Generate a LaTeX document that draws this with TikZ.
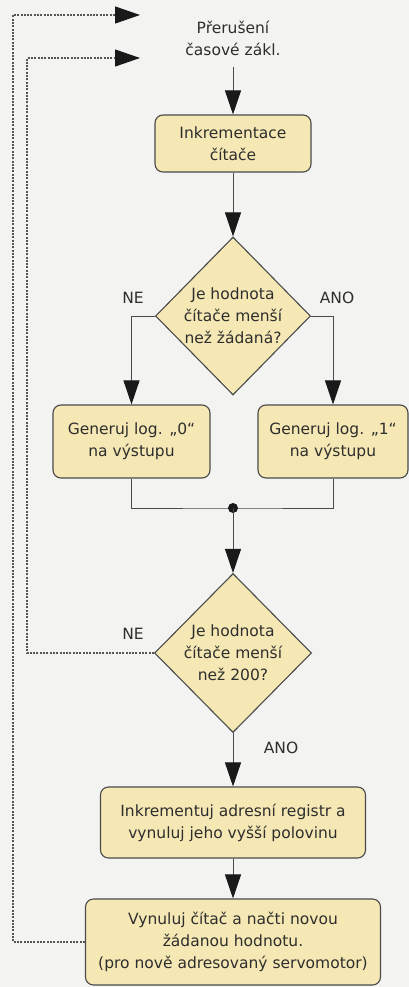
\documentclass[tikz,border=0pt]{standalone}
\usepackage{fontspec}
\setmainfont{DejaVu Sans}
\usetikzlibrary{arrows.meta,shapes.geometric}
\definecolor{bg}{HTML}{F3F3F1}
\definecolor{boxfill}{HTML}{F5E8B4}
\definecolor{linec}{HTML}{4A4A4A}
\definecolor{loopc}{HTML}{555555}
\definecolor{txt}{HTML}{2E2E2E}
\begin{document}
\begin{tikzpicture}[x=1pt,y=-1pt,
  font=\fontsize{15.5}{22}\selectfont, text=txt,
  procbox/.style={draw=linec, fill=boxfill, rounded corners=8pt, line width=1.1pt, align=center, inner sep=0pt},
  decbox/.style={diamond, draw=linec, fill=boxfill, line width=1.1pt, inner sep=0pt},
  dectext/.style={align=center, inner sep=0pt},
  flow/.style={draw=linec, line width=0.9pt},
  arr/.style={flow, -{Triangle[length=24pt,width=16pt,color=black!90]}},
  loopline/.style={draw=loopc, line width=1.1pt, dash pattern=on 2pt off 1.3pt},
  looparr/.style={loopline, -{Triangle[length=25pt,width=17pt,color=black!90]}},
  lbl/.style={inner sep=0pt}]
\fill[bg] (0,0) rectangle (409,987);
\useasboundingbox (0,0) rectangle (409,987);

% title
\node[align=center, inner sep=0pt] (title) at (233,38) {Přerušení\\časové zákl.};
\coordinate (tstart) at (233,67);

% boxes
\node[procbox, minimum width=156pt, minimum height=57pt] (b1) at (233,143.5) {Inkrementace\\čítače};
\node[decbox, minimum width=155pt, minimum height=158pt] (d1) at (233,316) {};
\node[dectext] (d1t) at (d1.center) {Je hodnota\\čítače menší\\než žádaná?};
\node[procbox, minimum width=157pt, minimum height=73pt] (bl) at (131.5,441.5) {Generuj log. „0“\\na výstupu};
\node[procbox, minimum width=150pt, minimum height=73pt] (br) at (333,441.5) {Generuj log. „1“\\na výstupu};
\coordinate (m) at (233,508);
\node[decbox, minimum width=157pt, minimum height=159pt] (d2) at (233,653) {};
\node[dectext] (d2t) at (d2.center) {Je hodnota\\čítače menší\\než 200?};
\node[procbox, minimum width=265pt, minimum height=71pt] (b3) at (233,822.5) {Inkrementuj adresní registr a\\vynuluj jeho vyšší polovinu};
\node[procbox, minimum width=295pt, minimum height=86pt] (b4) at (233,942) {Vynuluj čítač a načti novou\\žádanou hodnotu.\\(pro nově adresovaný servomotor)};

% labels
\node[lbl] (ne1) at (133,298) {NE};
\node[lbl] (ano1) at (337,298) {ANO};
\node[lbl] (ne2) at (133,634) {NE};
\node[lbl] (ano2) at (281,748) {ANO};

% loop coordinates
\coordinate (o1) at (13,15);
\coordinate (o2) at (140,15);
\coordinate (i1) at (27,58);
\coordinate (i2) at (140,58);

% connectors
\draw[arr] (tstart) -- (b1.north);
\draw[arr] (b1.south) -- (d1.north);
\draw[arr] (d1.west) -| (bl.north);
\draw[arr] (d1.east) -| (br.north);
\draw[flow] (bl.south) |- (m) -| (br.south);
\fill[black!90] (m) circle (5pt);
\draw[arr] (m) -- (d2.north);
\draw[arr] (d2.south) -- (b3.north);
\draw[arr] (b3.south) -- (b4.north);

\draw[looparr] (d2.west) -| (i1) -- (i2);
\draw[looparr] (b4.west) -| (o1) -- (o2);
\end{tikzpicture}
\end{document}
